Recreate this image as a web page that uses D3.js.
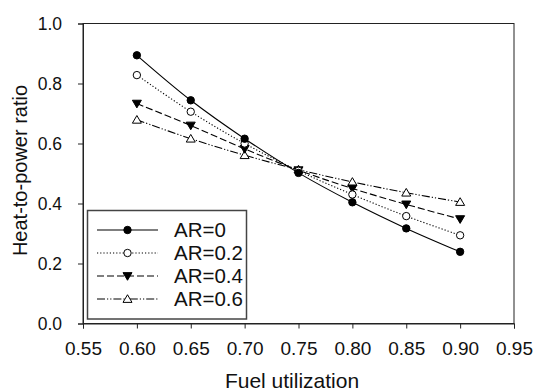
<!DOCTYPE html>
<html>
<head>
<meta charset="utf-8">
<script src="https://cdn.jsdelivr.net/npm/d3@7"></script>
<style>
  html, body { margin: 0; padding: 0; background: #fff; }
  svg { display: block; font-family: Arial, "Liberation Sans", sans-serif; }
</style>
</head>
<body>
<svg id="chart" width="535" height="391"></svg>
<script>
// ---- data ----
const fuelUtil = [0.60, 0.65, 0.70, 0.75, 0.80, 0.85, 0.90];
const ar0  = [0.894, 0.744, 0.616, 0.502, 0.404, 0.317, 0.239];
const ar02 = [0.828, 0.706, 0.600, 0.509, 0.430, 0.358, 0.294];
const ar04 = [0.733, 0.660, 0.582, 0.511, 0.450, 0.397, 0.348];
const ar06 = [0.679, 0.616, 0.561, 0.513, 0.472, 0.436, 0.405];
const seriesNames = ["AR=0", "AR=0.2", "AR=0.4", "AR=0.6"];
const xTicks = [0.55, 0.60, 0.65, 0.70, 0.75, 0.80, 0.85, 0.90, 0.95];
const yTicks = [0.0, 0.2, 0.4, 0.6, 0.8, 1.0];
const xTitle = "Fuel utilization";
const yTitle = "Heat-to-power ratio";

const seriesValues = [ar0, ar02, ar04, ar06];
const styles = [
  { dash: null,            marker: "circle",   fill: "#000" },
  { dash: "1.2,2",         marker: "circle",   fill: "#fff" },
  { dash: "7,3",           marker: "triDown",  fill: "#000" },
  { dash: "8,2,1.2,2,1.2,2", marker: "triUp",  fill: "#fff" }
];

const svg = d3.select("#chart");
const L = 83, R = 514, T = 23.5, B = 323.5;
const x = d3.scaleLinear().domain([0.55, 0.95]).range([L, R]);
const y = d3.scaleLinear().domain([0, 1]).range([B, T]);

// frame
svg.append("rect").attr("x", L).attr("y", T).attr("width", R - L).attr("height", B - T)
  .attr("fill", "none").attr("stroke", "#222").attr("stroke-width", 1);

// x axis
const xAxis = d3.axisBottom(x).tickValues(xTicks).tickFormat(d3.format(".2f")).tickSize(5).tickPadding(0);
const gx = svg.append("g").attr("transform", `translate(0,${B})`).call(xAxis);
gx.select(".domain").attr("stroke", "#222");
gx.selectAll(".tick line").attr("stroke", "#222");
gx.selectAll(".tick text").attr("y", 31.5).attr("dy", null)
  .attr("font-size", 19).attr("font-family", "Arial, 'Liberation Sans', sans-serif").attr("fill", "#111");

// y axis
const yAxis = d3.axisLeft(y).tickValues(yTicks).tickFormat(d3.format(".1f")).tickSize(5).tickPadding(0);
const gy = svg.append("g").attr("transform", `translate(${L},0)`).call(yAxis);
gy.select(".domain").attr("stroke", "#222");
gy.selectAll(".tick line").attr("stroke", "#222");
gy.selectAll(".tick text").attr("x", -21).attr("dy", "0.36em")
  .attr("font-size", 17.5).attr("font-family", "Arial, 'Liberation Sans', sans-serif").attr("fill", "#111");

// titles
svg.append("text").attr("x", 292).attr("y", 388).attr("text-anchor", "middle")
  .attr("font-size", 21).attr("fill", "#111").text(xTitle);
svg.append("text").attr("transform", `translate(27,${(T + B) / 2 - 3}) rotate(-90)`)
  .attr("text-anchor", "middle").attr("font-size", 20).attr("fill", "#111").text(yTitle);

// markers
function drawMarker(g, type, cx, cy, fill) {
  if (type === "circle") {
    g.append("circle").attr("cx", cx).attr("cy", cy).attr("r", 3.7)
      .attr("fill", fill).attr("stroke", "#000").attr("stroke-width", 1);
  } else {
    const s = 4.5;
    const pts = type === "triDown"
      ? [[cx - s, cy - s * 0.75], [cx + s, cy - s * 0.75], [cx, cy + s * 0.95]]
      : [[cx - s, cy + s * 0.75], [cx + s, cy + s * 0.75], [cx, cy - s * 0.95]];
    g.append("polygon").attr("points", pts.map(p => p.join(",")).join(" "))
      .attr("fill", fill).attr("stroke", "#000").attr("stroke-width", 1);
  }
}

const line = d3.line().x(d => x(d[0])).y(d => y(d[1])).curve(d3.curveCatmullRom.alpha(0.5));

// draw series (back to front: AR=0.6 first)
for (let i = seriesValues.length - 1; i >= 0; i--) {
  const pts = fuelUtil.map((f, j) => [f, seriesValues[i][j]]);
  const g = svg.append("g");
  g.append("path").attr("d", line(pts)).attr("fill", "none").attr("stroke", "#000")
    .attr("stroke-width", 1.1).attr("stroke-dasharray", styles[i].dash);
  pts.forEach(p => drawMarker(g, styles[i].marker, x(p[0]), y(p[1]), styles[i].fill));
}

// legend
const lg = svg.append("g");
lg.append("rect").attr("x", 87.5).attr("y", 210.5).attr("width", 159).attr("height", 108.5)
  .attr("fill", "#fff").attr("stroke", "#444").attr("stroke-width", 1.5);
const rowY = [230, 253, 276, 299];
seriesNames.forEach((name, i) => {
  lg.append("line").attr("x1", 97).attr("x2", 158).attr("y1", rowY[i]).attr("y2", rowY[i])
    .attr("stroke", "#000").attr("stroke-width", 1.1).attr("stroke-dasharray", styles[i].dash);
  drawMarker(lg, styles[i].marker, 127.5, rowY[i], styles[i].fill);
  lg.append("text").attr("x", 174).attr("y", rowY[i]).attr("dy", "0.36em")
    .attr("font-size", 20.5).attr("fill", "#111").text(name);
});
</script>
</body>
</html>
